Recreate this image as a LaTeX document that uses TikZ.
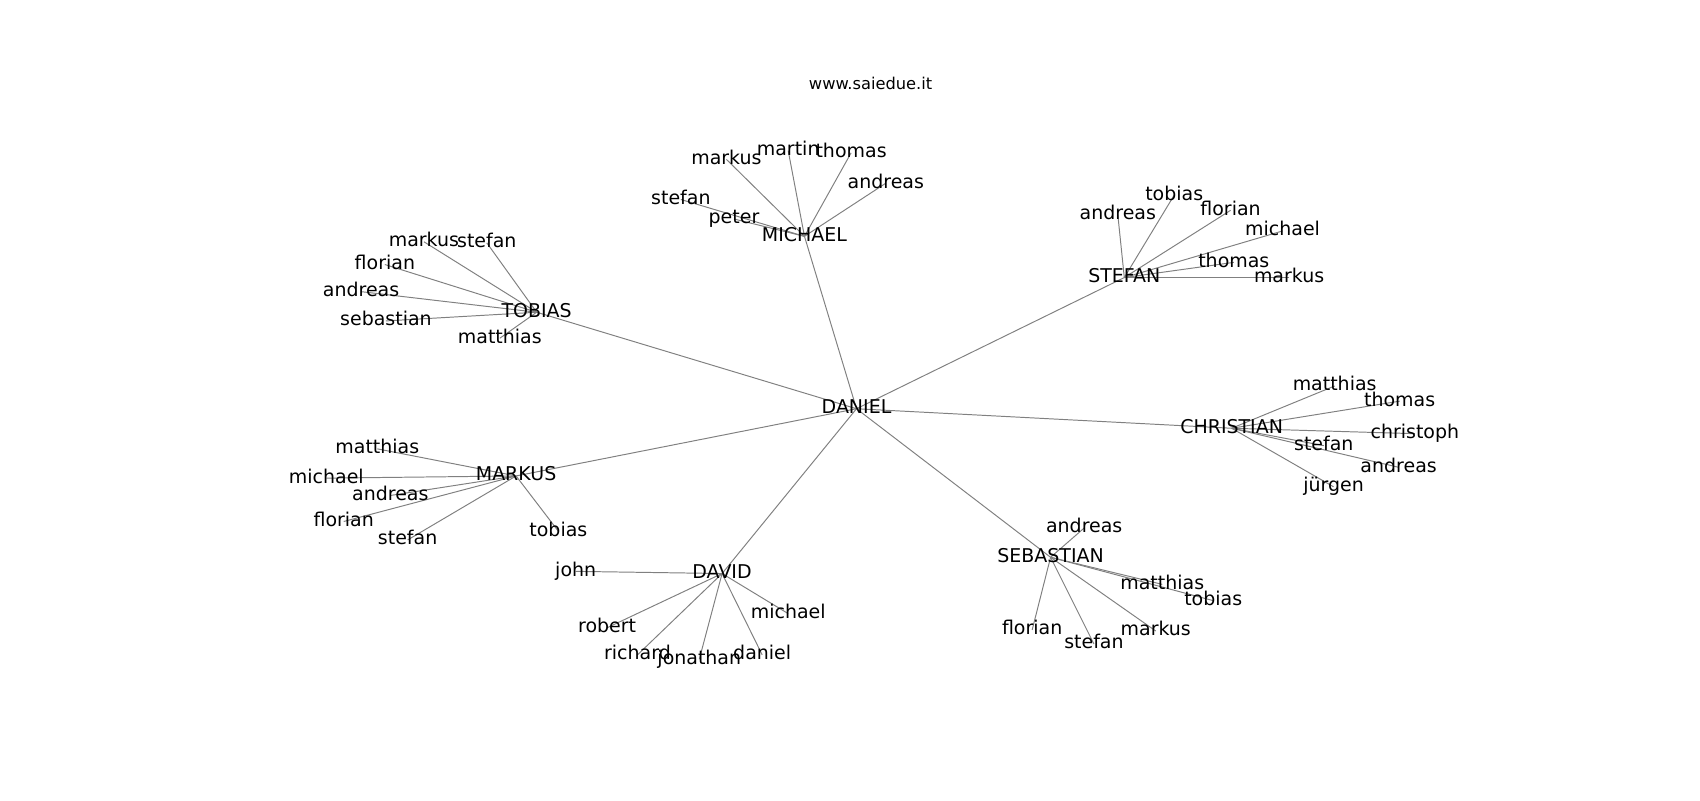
\documentclass[tikz,border=0pt]{standalone}
\usepackage{fontspec}
\setmainfont{DejaVu Sans}
\usetikzlibrary{backgrounds}

\begin{document}
\begin{tikzpicture}[x=1pt,y=-1pt,
  main node/.style={inner sep=0pt,text height=0.9em,text depth=0em,font=\fontsize{17.5}{20}\selectfont},
  title node/.style={inner sep=0pt,font=\fontsize{15}{18}\selectfont},
  link/.style={draw=gray,line width=0.9pt}]

  \useasboundingbox (0,0) rectangle (1568,738);
  \node[title node] (title) at (803,77) {www.saiedue.it};

  % centre and hubs
  \node[main node] (daniel) at (790,377) {DANIEL};
  \node[main node] (michael) at (742,218) {MICHAEL};
  \node[main node] (tobias) at (495,288) {TOBIAS};
  \node[main node] (stefan) at (1037,256) {STEFAN};
  \node[main node] (christian) at (1136,395) {CHRISTIAN};
  \node[main node] (markus) at (476,439) {MARKUS};
  \node[main node] (david) at (666,529) {DAVID};
  \node[main node] (sebastian) at (969,514) {SEBASTIAN};

  % MICHAEL
  \node[main node] (mi1) at (670,147) {markus};
  \node[main node] (mi2) at (727,139) {martin};
  \node[main node] (mi3) at (785,141) {thomas};
  \node[main node] (mi4) at (817,169) {andreas};
  \node[main node] (mi5) at (628,184) {stefan};
  \node[main node] (mi6) at (677,202) {peter};

  % TOBIAS
  \node[main node] (to1) at (391,223) {markus};
  \node[main node] (to2) at (449,224) {stefan};
  \node[main node] (to3) at (355,244) {florian};
  \node[main node] (to4) at (333,269) {andreas};
  \node[main node] (to5) at (356,296) {sebastian};
  \node[main node] (to6) at (461,312) {matthias};

  % STEFAN
  \node[main node] (st1) at (1083,180) {tobias};
  \node[main node] (st2) at (1031,198) {andreas};
  \node[main node] (st3) at (1135,194) {florian};
  \node[main node] (st4) at (1183,213) {michael};
  \node[main node] (st5) at (1138,242) {thomas};
  \node[main node] (st6) at (1189,256) {markus};

  % CHRISTIAN
  \node[main node] (ch1) at (1231,356) {matthias};
  \node[main node] (ch2) at (1291,370) {thomas};
  \node[main node] (ch3) at (1305,400) {christoph};
  \node[main node] (ch4) at (1221,411) {stefan};
  \node[main node] (ch5) at (1290,431) {andreas};
  \node[main node] (ch6) at (1230,449) {jürgen};

  % MARKUS
  \node[main node] (ma1) at (348,414) {matthias};
  \node[main node] (ma2) at (301,441) {michael};
  \node[main node] (ma3) at (360,457) {andreas};
  \node[main node] (ma4) at (317,481) {florian};
  \node[main node] (ma5) at (376,498) {stefan};
  \node[main node] (ma6) at (515,490) {tobias};

  % DAVID
  \node[main node] (da1) at (531,527) {john};
  \node[main node] (da2) at (560,579) {robert};
  \node[main node] (da3) at (588,604) {richard};
  \node[main node] (da4) at (645,608) {jonathan};
  \node[main node] (da5) at (703,604) {daniel};
  \node[main node] (da6) at (727,566) {michael};

  % SEBASTIAN
  \node[main node] (se1) at (1000,487) {andreas};
  \node[main node] (se2) at (1072,539) {matthias};
  \node[main node] (se3) at (1119,554) {tobias};
  \node[main node] (se4) at (952,581) {florian};
  \node[main node] (se5) at (1009,594) {stefan};
  \node[main node] (se6) at (1066,582) {markus};

  \begin{scope}[on background layer]
    \path[link] (daniel.center) edge (michael.center) edge (tobias.center)
      edge (stefan.center) edge (christian.center) edge (markus.center)
      edge (david.center) edge (sebastian.center);
    \path[link] (michael.center) edge (mi1.center) edge (mi2.center) edge (mi3.center)
      edge (mi4.center) edge (mi5.center) edge (mi6.center);
    \path[link] (tobias.center) edge (to1.center) edge (to2.center) edge (to3.center)
      edge (to4.center) edge (to5.center) edge (to6.center);
    \path[link] (stefan.center) edge (st1.center) edge (st2.center) edge (st3.center)
      edge (st4.center) edge (st5.center) edge (st6.center);
    \path[link] (christian.center) edge (ch1.center) edge (ch2.center) edge (ch3.center)
      edge (ch4.center) edge (ch5.center) edge (ch6.center);
    \path[link] (markus.center) edge (ma1.center) edge (ma2.center) edge (ma3.center)
      edge (ma4.center) edge (ma5.center) edge (ma6.center);
    \path[link] (david.center) edge (da1.center) edge (da2.center) edge (da3.center)
      edge (da4.center) edge (da5.center) edge (da6.center);
    \path[link] (sebastian.center) edge (se1.center) edge (se2.center) edge (se3.center)
      edge (se4.center) edge (se5.center) edge (se6.center);
  \end{scope}
\end{tikzpicture}
\end{document}
